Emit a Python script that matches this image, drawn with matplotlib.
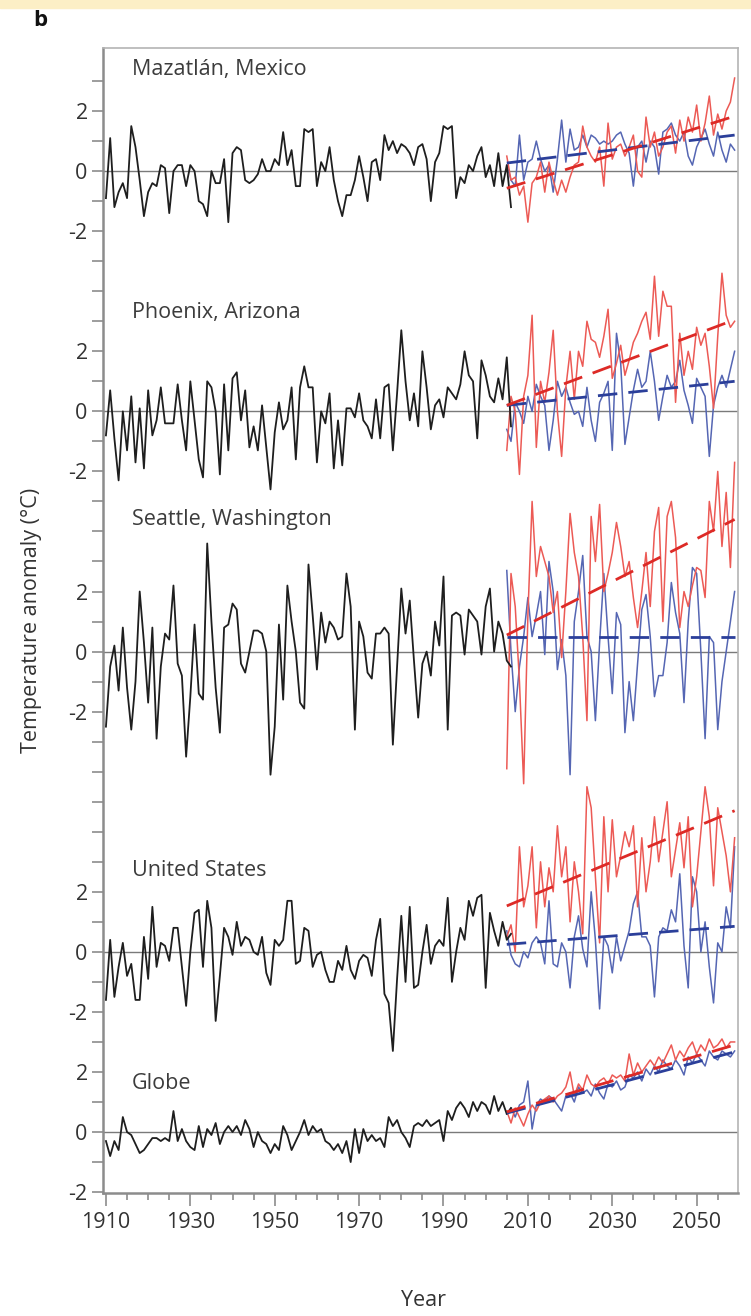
#!/usr/bin/env python3
import numpy as np
from matplotlib import pyplot as plt
from matplotlib.patches import Rectangle

################################################################################

obs_years = np.arange(1910, 2007)
proj_years = np.arange(2005, 2060)
trend_years = [2005, 2059]

panel_names = ['Mazatlán, Mexico', 'Phoenix, Arizona', 'Seattle, Washington',
				'United States', 'Globe']
panel_offsets = [32, 24, 16, 6, 0]
label_heights = [35.4, 27.3, 20.4, 8.7, 1.6]

maz_obs = [-0.9, 1.1, -1.2, -0.7, -0.4, -0.9, 1.5, 0.8, -0.3, -1.5,
	-0.7, -0.4, -0.5, 0.2, 0.1, -1.4, 0.0, 0.2, 0.2, -0.5,
	0.2, 0.0, -1.0, -1.1, -1.5, 0.0, -0.4, -0.4, 0.4, -1.7,
	0.6, 0.8, 0.7, -0.3, -0.4, -0.3, -0.1, 0.4, 0.0, 0.0,
	0.4, 0.2, 1.3, 0.2, 0.7, -0.5, -0.5, 1.4, 1.3, 1.4,
	-0.5, 0.3, 0.0, 0.8, -0.3, -1.0, -1.5, -0.8, -0.8, -0.3,
	0.5, -0.2, -1.0, 0.3, 0.4, -0.3, 1.2, 0.7, 1.0, 0.6,
	0.9, 0.8, 0.6, 0.2, 0.8, 0.9, 0.4, -1.0, 0.3, 0.6,
	1.5, 1.4, 1.5, -0.9, -0.2, -0.4, 0.2, 0.0, 0.5, 0.8,
	-0.2, 0.2, -0.5, 0.6, -0.5, 0.2, -1.2]
maz_red = [0.5, -0.3, -0.2, -0.8, -0.5, -1.7, -0.4, -0.2, 0.3, -0.7,
	0.3, -0.3, -0.8, -0.3, -0.7, -0.2, 0.2, 0.3, 1.5, 0.8,
	0.5, 0.3, 0.8, -0.5, 1.6, 0.4, 0.8, 0.9, 0.5, 0.8,
	1.2, 0.0, -0.2, 1.8, 0.8, 1.3, 0.5, 0.8, 1.3, 1.5,
	0.6, 1.7, 1.0, 1.8, 1.3, 2.2, 1.0, 1.6, 2.5, 1.2,
	1.9, 1.4, 2.0, 2.3, 3.1]
maz_blue = [0.2, -0.3, -0.5, 1.2, -0.3, 0.3, 0.4, 1.0, 0.4, 0.0,
	0.2, -0.7, 0.4, 1.7, 0.3, 1.4, 0.7, 0.8, 1.2, 0.8,
	1.2, 1.1, 0.9, 1.0, 0.9, 1.0, 1.2, 1.3, 0.9, 0.6,
	-0.5, 0.8, 1.0, 0.3, 1.0, 0.8, -0.1, 1.3, 1.4, 1.6,
	1.2, 1.0, 1.3, 0.5, 0.2, 0.8, 1.1, 1.4, 0.9, 0.5,
	1.3, 0.7, 0.3, 0.9, 0.7]
maz_red_trend = [-0.57, 1.83]
maz_blue_trend = [0.27, 1.2]

phx_obs = [-0.8, 0.7, -0.9, -2.3, 0.0, -1.3, 0.5, -1.7, 0.1, -1.9,
	0.7, -0.8, -0.3, 0.8, -0.4, -0.4, -0.4, 0.9, -0.3, -1.3,
	1.0, -0.3, -1.6, -2.2, 1.0, 0.8, 0.0, -2.1, 0.9, -1.3,
	1.1, 1.3, -0.3, 0.7, -1.2, -0.5, -1.3, 0.2, -1.2, -2.6,
	-0.7, 0.3, -0.6, -0.3, 0.8, -1.6, 0.8, 1.5, 0.8, 0.8,
	-1.7, 0.0, -0.4, 0.6, -1.9, -0.3, -1.8, 0.1, 0.1, -0.2,
	0.6, -0.3, -0.5, -0.9, 0.4, -0.9, 0.8, 0.9, -1.3, 0.6,
	2.7, 1.0, -0.3, 0.6, -0.5, 2.0, 0.8, -0.6, 0.2, 0.4,
	-0.2, 0.8, 0.6, 0.4, 0.9, 2.0, 1.2, 1.0, -0.9, 1.7,
	1.2, 0.5, 0.3, 1.1, 0.4, 1.8, -0.5]
phx_red = [-1.3, 0.5, 0.0, -2.1, 0.5, 1.2, 3.2, -1.2, 1.0, 0.3,
	1.3, 2.7, 0.0, -1.5, 0.8, 2.0, 0.4, 2.0, 1.5, 3.0,
	2.4, 2.3, 1.8, 2.5, 3.4, 1.1, 1.6, 2.2, 1.2, 1.7,
	2.3, 2.6, 3.0, 3.3, 2.4, 4.5, 2.5, 4.0, 3.5, 3.5,
	0.3, 2.6, 1.2, 2.0, 1.4, 2.8, 2.2, 2.6, 1.5, 0.1,
	2.5, 4.6, 3.2, 2.8, 3.0]
phx_blue = [-0.6, -1.0, 0.3, 0.0, -0.4, 0.5, 0.0, 0.9, 0.5, 0.2,
	-1.3, -0.3, 1.0, 0.5, 0.8, 0.3, -0.1, 0.0, -0.5, 0.8,
	-0.3, -1.0, 0.3, 0.6, 1.0, -1.3, 2.6, 1.6, -1.1, -0.2,
	0.7, 1.4, 0.8, 1.0, 2.0, 1.0, -0.3, 0.5, 1.2, 0.8,
	1.0, 1.7, 0.7, 0.2, -0.4, 1.1, 0.8, 0.5, -1.5, 0.2,
	0.8, 1.2, 0.8, 1.4, 2.0]
phx_red_trend = [0.2, 3.05]
phx_blue_trend = [0.2, 1.0]

sea_obs = [-2.5, -0.5, 0.2, -1.3, 0.8, -1.2, -2.6, -1.0, 2.0, 0.3,
	-1.7, 0.8, -2.9, -0.5, 0.6, 0.4, 2.2, -0.4, -0.8, -3.5,
	-1.5, 0.9, -1.4, -1.6, 3.6, 1.0, -1.2, -2.7, 0.8, 0.9,
	1.6, 1.4, -0.4, -0.7, 0.0, 0.7, 0.7, 0.6, 0.0, -4.1,
	-2.5, 0.9, -1.6, 2.2, 1.0, 0.0, -1.7, -1.9, 2.9, 1.2,
	-0.6, 1.3, 0.3, 1.0, 0.8, 0.4, 0.5, 2.6, 1.5, -2.6,
	1.0, 0.5, -0.7, -0.9, 0.6, 0.6, 0.8, 0.6, -3.1, -0.5,
	2.1, 0.6, 1.7, -0.3, -2.2, -0.4, 0.0, -0.8, 1.0, 0.2,
	2.5, -2.6, 1.2, 1.3, 1.2, -0.1, 1.4, 1.2, 1.0, -0.1,
	1.5, 2.1, 0.0, 1.0, 0.6, -0.3, -0.5]
sea_red = [-3.9, 2.6, 1.5, -1.0, -4.4, 1.2, 5.0, 2.5, 3.5, 3.0,
	2.5, 1.3, 2.0, -0.2, 2.0, 4.6, 3.3, 2.5, 0.5, -2.3,
	4.5, 3.0, 4.9, 2.0, 2.6, 3.3, 4.3, 3.5, 2.5, 3.0,
	1.8, 0.8, 2.0, 3.3, 1.5, 4.0, 4.8, 1.0, 4.5, 5.0,
	3.8, 0.8, 2.0, 1.5, 2.2, 2.8, 2.7, 1.8, 5.0, 4.0,
	6.0, 3.5, 5.3, 2.8, 6.3]
sea_blue = [2.7, 0.0, -2.0, -0.5, 0.5, 1.8, 0.5, 1.2, 2.0, -0.1,
	3.0, 2.0, -0.6, 0.4, -0.8, -4.1, 1.0, 2.0, 3.2, 0.5,
	0.0, -2.3, 0.3, 2.6, 0.5, -1.4, 1.3, 0.9, -2.7, -1.0,
	-2.3, -0.4, 1.4, 1.9, 0.5, -1.5, -0.8, -0.8, 0.3, 2.3,
	1.3, 0.6, -1.7, 1.0, 2.8, 2.6, 0.0, -2.9, 0.5, 0.3,
	-2.6, -1.0, 0.0, 1.0, 2.0]
sea_red_trend = [0.55, 4.4]
sea_blue_trend = [0.5, 0.5]

us_obs = [-1.6, 0.4, -1.5, -0.5, 0.3, -0.8, -0.4, -1.6, -1.6, 0.5,
	-0.9, 1.5, -0.5, 0.3, 0.2, -0.3, 0.8, 0.8, -0.5, -1.8,
	0.0, 1.3, 1.4, -0.5, 1.7, 0.8, -2.3, -0.8, 0.8, 0.5,
	-0.1, 1.0, 0.2, 0.5, 0.4, 0.0, -0.1, 0.5, -0.7, -1.1,
	0.4, 0.2, 0.4, 1.7, 1.7, -0.4, -0.3, 0.8, 0.7, -0.5,
	-0.1, 0.0, -0.6, -1.0, -1.0, -0.3, -0.6, 0.2, -0.6, -0.9,
	-0.3, -0.1, -0.2, -0.8, 0.4, 1.1, -1.4, -1.7, -3.3, -0.9,
	1.2, -1.0, 1.5, -1.2, -1.1, 0.0, 0.9, -0.4, 0.2, 0.4,
	0.2, 1.8, -1.0, 0.0, 0.8, 0.4, 1.7, 1.2, 1.8, 1.9,
	-1.2, 1.3, 0.7, 0.2, 1.0, 0.4, 0.6]
us_red = [0.5, 0.9, 0.0, 3.5, 1.5, 2.2, 3.5, 0.8, 3.0, 1.5,
	2.8, 2.0, 4.2, 2.5, 3.5, 1.0, 3.0, 2.0, 0.6, 5.5,
	4.8, 2.5, 0.3, 4.5, 2.0, 4.4, 2.5, 3.2, 4.0, 3.5,
	4.2, 1.5, 3.8, 2.0, 3.0, 4.5, 3.0, 4.0, 5.0, 2.5,
	3.4, 4.3, 2.8, 4.5, 1.5, 2.5, 4.0, 5.5, 4.5, 2.2,
	4.8, 4.0, 3.2, 2.0, 3.8]
us_blue = [0.7, -0.1, -0.4, -0.5, 0.0, -0.2, 0.3, 0.5, 0.3, -0.4,
	1.7, -0.4, -0.5, 0.3, 0.0, -1.2, 0.5, 1.2, 0.1, -0.5,
	2.0, 0.4, -1.9, 0.5, 0.2, -0.7, 0.5, -0.3, 0.2, 0.7,
	1.6, 2.0, 0.5, 0.5, 0.2, -1.5, 0.5, 0.8, 0.7, 1.4,
	1.0, 2.6, 0.2, -1.2, 2.5, 2.0, 0.0, 1.0, -0.5, -1.7,
	0.3, 0.0, 1.5, 0.8, 3.5]
us_red_trend = [1.53, 4.7]
us_blue_trend = [0.25, 0.85]

glb_obs = [-0.3, -0.8, -0.3, -0.6, 0.5, 0.0, -0.1, -0.4, -0.7, -0.6,
	-0.4, -0.2, -0.2, -0.3, -0.2, -0.3, 0.7, -0.3, 0.1, -0.3,
	-0.5, -0.6, 0.2, -0.5, 0.1, -0.1, 0.3, -0.4, 0.0, 0.2,
	0.0, 0.2, -0.1, 0.4, 0.1, -0.5, 0.0, -0.3, -0.4, -0.7,
	-0.4, -0.6, 0.2, -0.1, -0.6, -0.3, 0.0, 0.4, -0.1, 0.2,
	0.0, 0.1, -0.3, -0.4, -0.6, -0.4, -0.7, -0.3, -1.0, 0.1,
	-0.7, 0.1, -0.3, -0.1, -0.3, -0.2, -0.5, 0.5, 0.2, 0.4,
	0.0, -0.2, -0.5, 0.2, 0.3, 0.2, 0.4, 0.2, 0.3, 0.4,
	-0.3, 0.7, 0.4, 0.8, 1.0, 0.8, 0.5, 1.0, 0.7, 1.0,
	0.9, 0.6, 1.2, 0.7, 1.0, 0.6, 0.8]
glb_red = [0.7, 0.3, 0.8, 0.5, 0.2, 0.6, 0.9, 0.7, 1.0, 1.1,
	1.2, 1.0, 1.2, 1.3, 1.5, 2.0, 1.2, 1.6, 1.4, 1.9,
	1.6, 1.5, 1.7, 1.8, 1.6, 1.9, 1.8, 1.9, 1.7, 2.6,
	1.9, 2.3, 2.0, 2.2, 2.4, 2.2, 2.5, 2.3, 2.6, 2.9,
	2.4, 2.7, 2.5, 2.8, 3.0, 2.6, 2.9, 2.7, 3.1, 2.8,
	2.9, 3.1, 2.8, 3.0, 3.0]
glb_blue = [0.6, 0.8, 0.5, 0.9, 1.0, 1.7, 0.1, 0.9, 1.1, 1.0,
	1.2, 1.1, 0.9, 0.7, 1.2, 1.3, 1.0, 1.5, 1.3, 1.4,
	1.2, 1.6, 1.3, 1.1, 1.6, 1.5, 1.7, 1.4, 1.5, 1.9,
	1.8, 2.0, 1.7, 2.1, 1.9, 2.2, 2.0, 2.4, 2.2, 2.1,
	2.4, 2.2, 1.9, 2.5, 2.3, 2.6, 2.4, 2.2, 2.7, 2.5,
	2.4, 2.7, 2.6, 2.5, 2.7]
glb_red_trend = [0.67, 2.9]
glb_blue_trend = [0.63, 2.67]

obs_series = [maz_obs, phx_obs, sea_obs, us_obs, glb_obs]
red_series = [maz_red, phx_red, sea_red, us_red, glb_red]
blue_series = [maz_blue, phx_blue, sea_blue, us_blue, glb_blue]
red_trends = [maz_red_trend, phx_red_trend, sea_red_trend, us_red_trend,
				glb_red_trend]
blue_trends = [maz_blue_trend, phx_blue_trend, sea_blue_trend, us_blue_trend,
				glb_blue_trend]

################################################################################

if __name__ == '__main__':
	plt.rcParams['font.family'] = ['Open Sans', 'DejaVu Sans']
	fig = plt.figure(figsize=(7.51, 13.16), dpi=100)
	# thin yellow band along the top of the page
	fig.patches.append(Rectangle((0, 1 - 8/1316), 1, 8/1316,
						transform=fig.transFigure, color='#fcefc6',
						zorder=0))
	ax = fig.add_axes([103/751, 123/1316, 635/751, 1145/1316])

	red_col = '#ec5a55'
	blue_col = '#5566b3'
	for index, offset in enumerate(panel_offsets):
		ax.axhline(offset, color='#7a7a7a', linewidth=1.0, zorder=1)
		ax.plot(proj_years, np.array(blue_series[index]) + offset,
				color=blue_col, linewidth=1.1, zorder=3)
		ax.plot(proj_years, np.array(red_series[index]) + offset,
				color=red_col, linewidth=1.1, zorder=4)
		ax.plot(obs_years, np.array(obs_series[index]) + offset,
				color='#1e1e1e', linewidth=1.3, zorder=5)
		ax.plot(trend_years, np.array(blue_trends[index]) + offset,
				color='#2b3f9a', linewidth=2.0, dashes=(7, 4), zorder=6)
		ax.plot(trend_years, np.array(red_trends[index]) + offset,
				color='#dd2a26', linewidth=2.0, dashes=(7, 4), zorder=7)
		ax.text(1916.2, label_heights[index], panel_names[index],
				fontsize=15.5, color='#3c3c3c', va='center', ha='left')

	ax.set_xlim(1909.3, 2059.8)
	ax.set_ylim(-2.03, 36.1)

	# y ticks: one every degree, labels only at -2, 0, 2 of each panel
	ax.set_yticks(np.arange(-2, 36))
	ytick_labels = []
	for value in np.arange(-2, 36):
		text = ''
		for offset in panel_offsets:
			if value - offset in (-2, 0, 2):
				text = str(value - offset)
		ytick_labels.append(text)
	ax.set_yticklabels(ytick_labels)
	ax.tick_params(axis='y', direction='out', length=8, width=1.2,
					color='#8c8c8c', labelsize=15.5, labelcolor='#333333',
					pad=3)
	ax.set_xticks(np.arange(1910, 2060, 20))
	ax.set_xticks(np.arange(1910, 2060, 5), minor=True)
	ax.tick_params(axis='x', which='major', direction='out', length=9,
					width=1.2, color='#8c8c8c', labelsize=15.5,
					labelcolor='#333333', pad=5)
	ax.tick_params(axis='x', which='minor', direction='out', length=5,
					width=1.2, color='#8c8c8c')

	for side in ['left', 'bottom']:
		ax.spines[side].set_color('#8c8c8c')
		ax.spines[side].set_linewidth(1.8)
	for side in ['top', 'right']:
		ax.spines[side].set_color('#b4b4b4')
		ax.spines[side].set_linewidth(1.2)

	fig.text(32/751, 1 - 620/1316, 'Temperature anomaly (°C)', rotation=90,
				ha='center', va='center', fontsize=15.5, color='#333333')
	fig.text(423/751, 1 - 1300/1316, 'Year', ha='center', va='center',
				fontsize=15.5, color='#333333')
	fig.text(40/751, 1 - 21/1316, 'b', ha='center', va='center',
				fontsize=16, fontweight='bold', color='#111111')

	plt.savefig('out.png', dpi=100)

################################################################################
# EOF
